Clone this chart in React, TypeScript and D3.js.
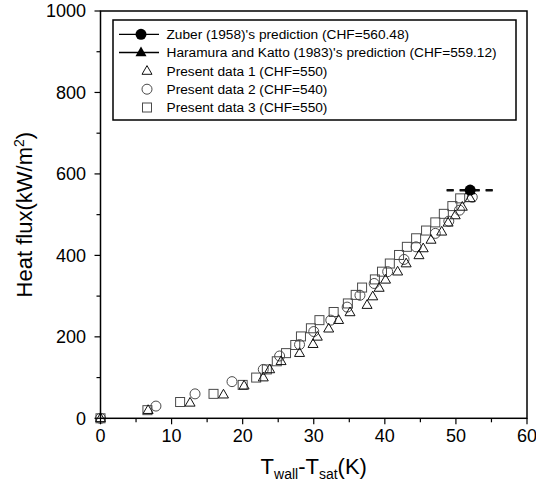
import React from "react";
import * as d3 from "d3";

const W = 536;
const H = 484;

const xTicks = [0, 10, 20, 30, 40, 50, 60];
const yTicks = [0, 200, 400, 600, 800, 1000];
const xMinor = [5, 15, 25, 35, 45, 55];
const yMinor = [100, 300, 500, 700, 900];

// Present data 1 (triangles)
const data1X = [0, 6.7, 12.6, 17.3, 20.2, 22.9, 23.8, 25.4, 28.0, 29.9, 30.5, 32.1, 33.5, 35.1, 37.5, 38.3, 39.2, 40.1, 41.8, 43.0, 44.8, 45.4, 46.5, 48.0, 48.9, 49.9, 50.9, 52.0];
const data1Y = [0, 20, 38, 58, 80, 100, 120, 140, 160, 182, 200, 220, 241, 260, 278, 299, 320, 340, 360, 380, 400, 417, 438, 458, 480, 498, 519, 540];

// Present data 2 (circles)
const data2X = [0, 7.8, 13.3, 18.5, 22.9, 25.2, 28.0, 30.0, 32.4, 34.7, 36.5, 38.5, 40.4, 42.7, 44.4, 47.1, 49.0, 50.5, 52.3];
const data2Y = [0, 30, 60, 90, 120, 153, 181, 213, 241, 273, 302, 331, 360, 390, 421, 454, 484, 511, 543];

// Present data 3 (squares)
const data3X = [0, 6.6, 11.2, 15.9, 20.0, 21.9, 23.4, 24.8, 26.1, 27.4, 28.2, 29.6, 30.8, 32.8, 34.8, 35.9, 36.8, 38.6, 39.6, 40.7, 42.0, 43.1, 44.4, 45.8, 47.1, 48.3, 49.5, 50.6];
const data3Y = [0, 20, 40, 60, 82, 100, 120, 140, 160, 180, 201, 221, 241, 261, 282, 303, 321, 341, 360, 380, 401, 421, 442, 461, 481, 502, 521, 540];

// Predictions
const predLabels = ["Zuber (1958)'s prediction (CHF=560.48)", "Haramura and Katto (1983)'s prediction (CHF=559.12)"];
const predX = [52, 52];
const predY = [560.48, 559.12];
const predLineX = [48.7, 55.4];

const presentLabels = ["Present data 1 (CHF=550)", "Present data 2 (CHF=540)", "Present data 3 (CHF=550)"];

const FONT = "Arial, 'Liberation Sans', sans-serif";

const triPath = (cx: number, cy: number, s: number) => {
  const h = s * 0.87;
  return `M${cx},${cy - h * 0.62}L${cx + s / 2},${cy + h * 0.38}L${cx - s / 2},${cy + h * 0.38}Z`;
};

export default function App() {
  const left = 100.5;
  const right = 527;
  const top = 11;
  const bottom = 418.3;
  const x = d3.scaleLinear().domain([0, 60]).range([left, right]);
  const y = d3.scaleLinear().domain([0, 1000]).range([bottom, top]);

  const grayStroke = "#4a4a4a";

  const legendRows = [34.3, 52.5, 71, 89.2, 107.5];
  const legTextX = 166.5;

  return (
    <svg width={W} height={H} style={{ position: "absolute", left: 0, top: 0, background: "#fff" }} fontFamily={FONT}>
      <rect x={0} y={0} width={W} height={H} fill="#fff" />
      {/* data: squares */}
      {data3X.map((v, i) => (
        <rect key={"s" + i} x={x(v) - 4.5} y={y(data3Y[i]) - 4.5} width={9} height={9} fill="none" stroke={grayStroke} strokeWidth={1} />
      ))}
      {/* circles */}
      {data2X.map((v, i) => (
        <circle key={"c" + i} cx={x(v)} cy={y(data2Y[i])} r={5} fill="none" stroke={grayStroke} strokeWidth={1} />
      ))}
      {/* triangles */}
      {data1X.map((v, i) => (
        <path key={"t" + i} d={triPath(x(v), y(data1Y[i]), 10)} fill="none" stroke="#111" strokeWidth={1} />
      ))}
      {/* prediction dashed lines and markers */}
      {predY.map((v, i) => (
        <line key={"pl" + i} x1={x(predLineX[0])} x2={x(predLineX[1])} y1={y(v)} y2={y(v)} stroke="#111" strokeWidth={2} strokeDasharray="7,6" />
      ))}
      <path d={triPath(x(predX[1]), y(predY[1]), 11)} fill="#000" />
      <circle cx={x(predX[0])} cy={y(predY[0])} r={5.5} fill="#000" />

      {/* frame */}
      <rect x={left} y={top} width={right - left} height={bottom - top} fill="none" stroke="#000" strokeWidth={1.5} />

      {/* x ticks */}
      {xTicks.map((t) => (
        <g key={"xt" + t}>
          <line x1={x(t)} x2={x(t)} y1={bottom} y2={bottom + 6} stroke="#000" strokeWidth={1.2} />
          <text x={x(t)} y={442} fontSize={18} textAnchor="middle" fill="#000">{t}</text>
        </g>
      ))}
      {xMinor.map((t) => (
        <line key={"xm" + t} x1={x(t)} x2={x(t)} y1={bottom} y2={bottom + 4} stroke="#000" strokeWidth={1.2} />
      ))}
      {/* y ticks */}
      {yTicks.map((t) => (
        <g key={"yt" + t}>
          <line x1={left - 6} x2={left} y1={y(t)} y2={y(t)} stroke="#000" strokeWidth={1.2} />
          <text x={86} y={y(t)} dy="0.36em" fontSize={18} textAnchor="end" fill="#000">{t}</text>
        </g>
      ))}
      {yMinor.map((t) => (
        <line key={"ym" + t} x1={left - 4} x2={left} y1={y(t)} y2={y(t)} stroke="#000" strokeWidth={1.2} />
      ))}

      {/* axis titles */}
      <text x={(left + right) / 2} y={474} fontSize={22} textAnchor="middle" fill="#000">
        T<tspan fontSize={14} dy={5}>wall</tspan><tspan dy={-5}>-T</tspan><tspan fontSize={14} dy={5}>sat</tspan><tspan dy={-5}>(K)</tspan>
      </text>
      <text transform={`translate(32,${(top + bottom) / 2}) rotate(-90)`} fontSize={22} textAnchor="middle" fill="#000">
        Heat flux(kW/m<tspan fontSize={14} dy={-8}>2</tspan><tspan dy={8}>)</tspan>
      </text>

      {/* legend */}
      <rect x={113} y={20} width={403} height={100} fill="#fff" stroke="#000" strokeWidth={1.5} />
      <line x1={119} x2={159} y1={legendRows[0]} y2={legendRows[0]} stroke="#000" strokeWidth={1.3} />
      <circle cx={141} cy={legendRows[0]} r={5.5} fill="#000" />
      <line x1={119} x2={159} y1={legendRows[1]} y2={legendRows[1]} stroke="#000" strokeWidth={1.3} />
      <path d={triPath(141, legendRows[1], 11)} fill="#000" />
      <path d={triPath(147, legendRows[2], 10)} fill="none" stroke="#111" strokeWidth={1} />
      <circle cx={147} cy={legendRows[3]} r={5} fill="none" stroke={grayStroke} strokeWidth={1} />
      <rect x={142.5} y={legendRows[4] - 4.5} width={9} height={9} fill="none" stroke={grayStroke} strokeWidth={1} />
      {[...predLabels, ...presentLabels].map((s, i) => (
        <text key={"lt" + i} x={legTextX} y={legendRows[i]} dy="0.36em" fontSize={13.7} fill="#000">{s}</text>
      ))}
    </svg>
  );
}
